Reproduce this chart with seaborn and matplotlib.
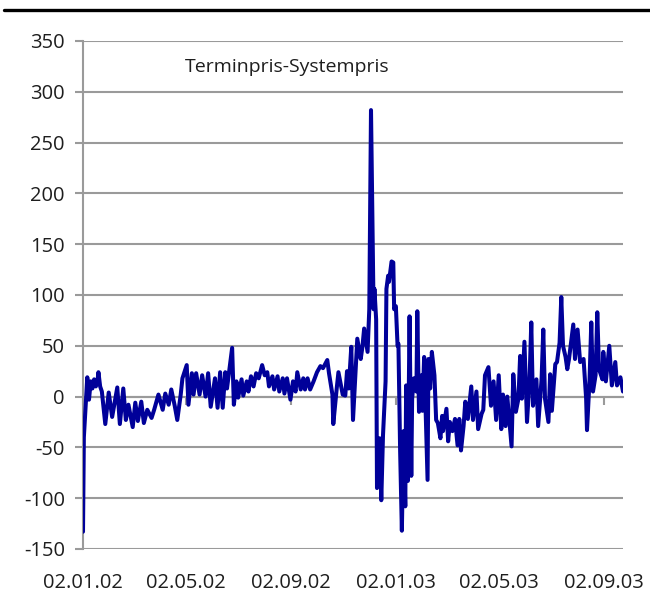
import matplotlib
matplotlib.use("Agg")
import matplotlib.pyplot as plt
import matplotlib.dates as mdates
from matplotlib.lines import Line2D
import pandas as pd
import seaborn as sns

# Daily spread between forward price and system price
start_date = "2002-01-02"

day_offset = [
    0, 1, 2, 3, 5, 7, 9, 11, 13, 15, 17, 18, 20, 22, 26, 30, 34, 40, 43, 47,
    50, 53, 58, 61, 64, 68, 71, 75, 80, 83, 88, 93, 96, 100, 103, 107, 110, 114, 116, 121,
    123, 127, 129, 132, 136, 139, 143, 146, 149,
    154, 157, 160, 163, 166, 168, 171, 174, 176, 179, 181, 185, 187, 191, 193, 196, 199, 202, 205, 209,
    212, 215, 217, 221, 223, 227, 229, 233, 235, 238, 242, 245, 248, 250, 254, 257, 259, 262, 265, 269,
    273, 277, 280, 285, 287, 291, 292, 296, 298, 303,
    306, 308, 310, 313, 315, 318, 320, 324, 326, 328, 332, 334, 336, 339, 340, 342, 343, 346, 348, 350,
    353, 354, 356, 357, 360, 362, 363, 365, 367, 368, 370, 372, 374, 376, 377, 379, 381, 383, 384, 386,
    389, 390, 392, 395, 396, 398, 402, 403, 405, 407, 410, 412, 414, 417, 419, 420, 424, 426, 428, 431,
    434, 437, 439, 441, 444, 446, 449, 453, 455, 459, 461, 465, 467,
    469, 473, 476, 479, 482, 485, 488, 490, 493, 495, 500, 502, 505, 508, 510, 512, 515, 518, 521, 523,
    525, 529, 531, 535, 537, 539, 543, 545, 547, 551, 553, 556, 558, 560, 563, 565, 567, 572, 574, 577,
    580, 584, 587, 588, 591, 593, 595, 598, 600, 602, 606, 607, 610, 614, 617, 621, 623, 627, 630,
]

spread = [
    -133, -40, -25, -10, 19, -3, 15, 8, 17, 10, 16, 24, 10, 5, -27, 4, -20, 9, -27, 8,
    -23, -8, -30, -6, -24, -5, -26, -13, -21, -13, 2, -13, 3, -8, 7, -9, -23, 2, 18, 31,
    -8, 23, 2, 23, 2, 21, 0, 23, -10,
    18, -11, 24, -11, 24, 8, 28, 48, -8, 15, -1, 17, 1, 15, 5, 20, 10, 23, 18, 31,
    21, 24, 10, 20, 7, 20, 5, 18, 3, 18, -3, 15, 5, 24, 7, 18, 7, 18, 7, 15,
    24, 30, 28, 36, 23, 2, -27, 8, 24, 2,
    1, 25, 8, 49, -23, 24, 57, 37, 49, 67, 44, 86, 282, 86, 106, 76, -90, -41, -102, -38,
    15, 106, 119, 113, 133, 132, 86, 89, 50, 52, -54, -132, -34, -108, 11, -83, 79, -78, -2, 18,
    5, 84, -15, 21, -14, 39, -82, 37, 8, 44, 21, -23, -26, -41, -19, -34, -12, -44, -25, -34,
    -22, -48, -22, -53, -29, -5, -22, 10, -23, 5, -32, -17, -13,
    21, 29, -9, 15, -23, 21, -32, 2, -29, 0, -49, 22, -15, -2, 40, -2, 54, -25, 17, 73,
    -9, 17, -29, 17, 66, -2, -25, 22, -14, 32, 34, 53, 98, 50, 39, 27, 37, 71, 37, 66,
    34, 37, -2, -33, 17, 73, 5, 21, 83, 27, 17, 44, 15, 50, 11, 34, 11, 19, 5,
]

tick_dates = ["2002-01-02", "2002-05-02", "2002-09-02", "2003-01-02", "2003-05-02", "2003-09-02"]
tick_labels = ["02.01.02", "02.05.02", "02.09.02", "02.01.03", "02.05.03", "02.09.03"]
y_ticks = [-150, -100, -50, 0, 50, 100, 150, 200, 250, 300, 350]
series_name = "Terminpris-Systempris"

sns.set_theme(style="white")
plt.rcParams["font.family"] = ["Open Sans", "DejaVu Sans"]
plt.rcParams["axes.unicode_minus"] = False

dates = pd.Timestamp(start_date) + pd.to_timedelta(day_offset, unit="D")
df = pd.DataFrame({"dato": dates, "pris": spread})

GRID = "#9a9a9a"
TEXT = "#1e1e1e"
FS = 14.5

fig = plt.figure(figsize=(6.5, 6.07), dpi=100)
ax = fig.add_axes([83 / 650, 1 - 549 / 607, 540 / 650, 508 / 607])

sns.lineplot(data=df, x="dato", y="pris", ax=ax, color="#000099", linewidth=2.9,
             solid_joinstyle="round", solid_capstyle="round", zorder=3)

ax.set_xlim(dates[0], dates[-1])
ax.set_ylim(-150, 350)
ax.set_yticks(y_ticks)
ax.set_yticklabels([str(v) for v in y_ticks])
ax.set_xlabel("")
ax.set_ylabel("")
ax.set_axisbelow(True)
ax.yaxis.grid(True, color=GRID, linewidth=1.5)
ax.xaxis.grid(False)

for side in ("top", "right"):
    ax.spines[side].set_visible(False)
ax.spines["left"].set_color(GRID)
ax.spines["left"].set_linewidth(1.5)
# horizontal axis crosses at zero
ax.spines["bottom"].set_position(("data", 0))
ax.spines["bottom"].set_color(GRID)
ax.spines["bottom"].set_linewidth(1.5)

ax.set_xticks(pd.to_datetime(tick_dates))
ax.tick_params(axis="x", direction="out", length=6, width=1.5, color=GRID,
               bottom=True, labelbottom=False)
ax.tick_params(axis="y", direction="out", length=6, width=1.5, color=GRID,
               left=True, pad=7, labelsize=FS, labelcolor=TEXT)

# date labels sit below the plot area
lab = ax.twiny()
lab.set_xlim(ax.get_xlim())
lab.set_xticks(mdates.date2num(pd.to_datetime(tick_dates)))
lab.set_xticklabels(tick_labels)
lab.xaxis.set_ticks_position("bottom")
lab.tick_params(axis="x", length=0, pad=17, labelsize=FS, labelcolor=TEXT)
lab.grid(False)
for s in lab.spines.values():
    s.set_visible(False)

ax.text(0.189, 0.9665, series_name, transform=ax.transAxes, ha="left", va="top",
        fontsize=14, color=TEXT)

fig.add_artist(Line2D([0.006, 1.0], [0.984, 0.984], transform=fig.transFigure,
                      color="black", linewidth=2.4))

fig.savefig("out.png", dpi=100)
